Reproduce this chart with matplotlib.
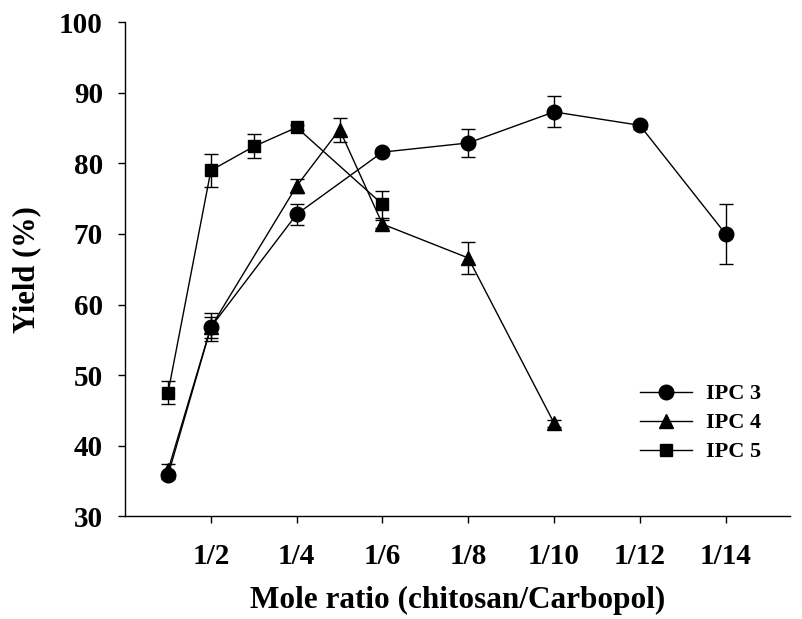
import matplotlib.pyplot as plt

# mole ratio index (1 -> 1/1, 2 -> 1/2, ...)
ratio_ipc3 = [1, 2, 4, 6, 8, 10, 12, 14]
yield_ipc3 = [35.8, 56.8, 72.8, 81.6, 82.9, 87.3, 85.4, 70.0]
err_ipc3 = [0.5, 2.0, 1.5, 0.4, 2.0, 2.2, 0.5, 4.2]

ratio_ipc4 = [1, 2, 4, 5, 6, 8, 10]
yield_ipc4 = [36.5, 56.8, 76.8, 84.8, 71.4, 66.6, 43.2]
err_ipc4 = [0.9, 1.5, 1.0, 1.7, 0.6, 2.3, 0.5]

ratio_ipc5 = [1, 2, 3, 4, 6]
yield_ipc5 = [47.5, 79.0, 82.4, 85.1, 74.2]
err_ipc5 = [1.6, 2.4, 1.7, 0.4, 1.9]

tick_pos = [2, 4, 6, 8, 10, 12, 14]
tick_labels = ["1/2", "1/4", "1/6", "1/8", "1/10", "1/12", "1/14"]

plt.rcParams['font.family'] = ['Liberation Serif', 'DejaVu Serif']
plt.rcParams['font.weight'] = 'bold'

fig = plt.figure(figsize=(8.02, 6.19), dpi=100)
ax = fig.add_axes([0.156, 0.166, 0.829, 0.798])

style = dict(color='black', linewidth=1.0, elinewidth=1.0, capsize=5,
             capthick=1.0, markeredgecolor='black', markerfacecolor='black')
ax.errorbar(ratio_ipc3, yield_ipc3, yerr=err_ipc3, marker='o', markersize=10.5,
            label="IPC 3", **style)
ax.errorbar(ratio_ipc4, yield_ipc4, yerr=err_ipc4, marker='^', markersize=10.5,
            label="IPC 4", **style)
ax.errorbar(ratio_ipc5, yield_ipc5, yerr=err_ipc5, marker='s', markersize=9,
            label="IPC 5", **style)

ax.set_xlim(0, 15.5)
ax.set_ylim(30, 100)
ax.set_xticks(tick_pos)
ax.set_xticklabels(tick_labels)
ax.set_yticks(range(30, 101, 10))
ax.tick_params(direction='out', length=5, width=1.0, labelsize=21)
ax.tick_params(axis='y', pad=11)
ax.tick_params(axis='x', pad=14)

ax.spines['top'].set_visible(False)
ax.spines['right'].set_visible(False)
ax.spines['left'].set_linewidth(1.0)
ax.spines['bottom'].set_linewidth(1.0)

ax.set_xlabel("Mole ratio (chitosan/Carbopol)", fontsize=22.5, fontweight='bold', labelpad=12)
ax.set_ylabel("Yield (%)", fontsize=22, fontweight='bold', labelpad=13)

handles, labels = ax.get_legend_handles_labels()
handles = [h[0] for h in handles]
ax.legend(handles, labels, loc='upper left', bbox_to_anchor=(0.798, 0.380),
          bbox_transform=fig.transFigure, borderaxespad=0, borderpad=0,
          frameon=False, fontsize=16, handlelength=2.34, handletextpad=0.63,
          labelspacing=0.38)

fig.savefig("out.png", dpi=100)
